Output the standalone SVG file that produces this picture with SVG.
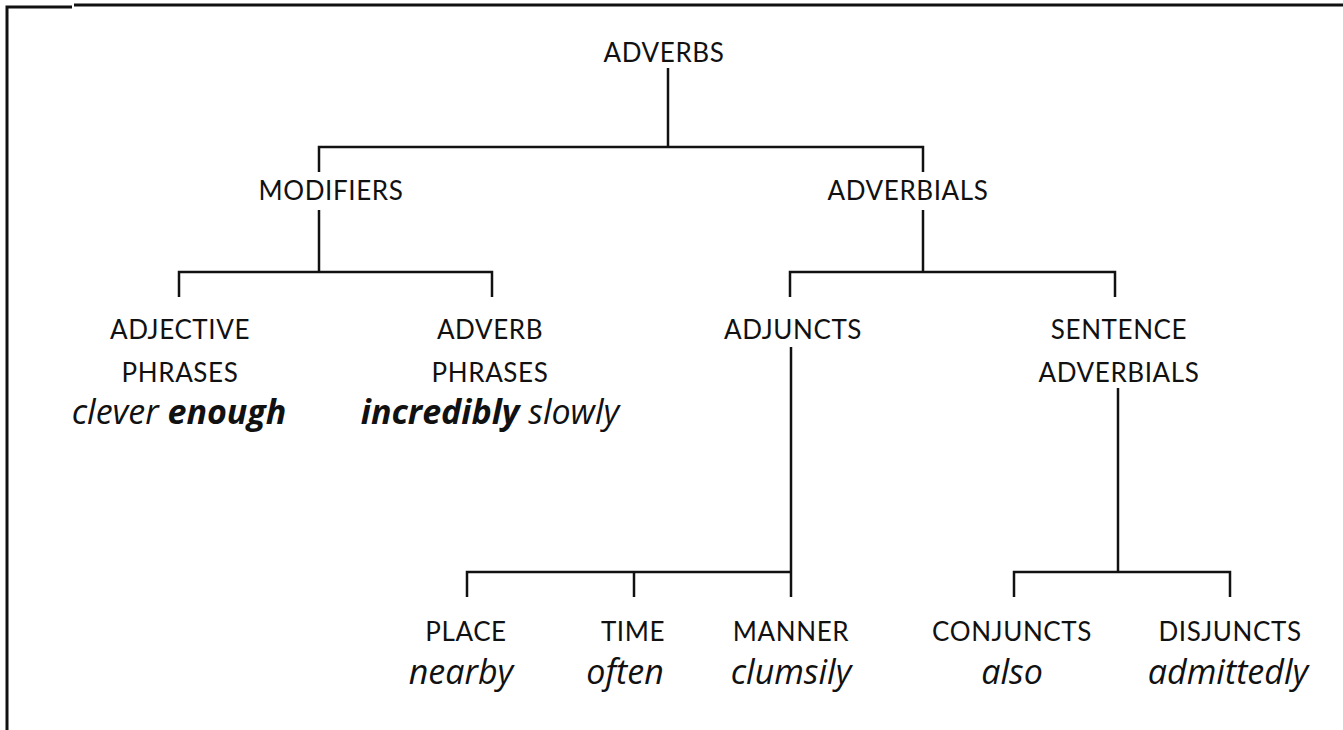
<svg xmlns="http://www.w3.org/2000/svg" width="1343" height="730" viewBox="0 0 1343 730">
  <style>
    .lbl { font-family: Lato, "Liberation Sans", sans-serif; font-size: 26px; letter-spacing: 0.6px; fill: #111; text-anchor: middle; }
    .ex { font-family: "Open Sans", "Liberation Sans", sans-serif; font-size: 34px; font-style: italic; fill: #111; text-anchor: middle; }
    .b { font-weight: bold; }
    .ln { stroke: #111; stroke-width: 2.5; fill: none; }
    .frame { stroke: #111; stroke-width: 3; fill: none; }
  </style>
  <rect width="1343" height="730" fill="#fff"/>

  <!-- page frame -->
  <g id="frame">
    <path class="frame" d="M7,730 V7 H72"/>
    <path class="frame" d="M74,5 H1343"/>
  </g>

  <!-- connectors -->
  <g id="connectors">
    <path class="ln" d="M668,68 V147"/>
    <path class="ln" d="M319,172 V147 H923 V172"/>
    <path class="ln" d="M319,210 V272"/>
    <path class="ln" d="M179,297 V272 H492 V297"/>
    <path class="ln" d="M923,210 V272"/>
    <path class="ln" d="M790,297 V272 H1115 V297"/>
    <path class="ln" d="M791,347 V597"/>
    <path class="ln" d="M467,597 V572 H791"/>
    <path class="ln" d="M634,572 V597"/>
    <path class="ln" d="M1118,388 V572"/>
    <path class="ln" d="M1014,597 V572 H1230 V597"/>
  </g>

  <g id="adverbs"><text class="lbl" x="664" y="62">ADVERBS</text></g>
  <g id="modifiers"><text class="lbl" x="331" y="200">MODIFIERS</text></g>
  <g id="adverbials"><text class="lbl" x="908" y="200">ADVERBIALS</text></g>

  <g id="adjective-phrases">
    <text class="lbl" x="180" y="339">ADJECTIVE</text>
    <text class="lbl" x="180" y="382">PHRASES</text>
    <text class="ex" x="179" y="424">clever <tspan class="b">enough</tspan></text>
  </g>
  <g id="adverb-phrases">
    <text class="lbl" x="490" y="339">ADVERB</text>
    <text class="lbl" x="490" y="382">PHRASES</text>
    <text class="ex" x="490" y="424"><tspan class="b">incredibly</tspan> slowly</text>
  </g>
  <g id="adjuncts"><text class="lbl" x="793" y="339">ADJUNCTS</text></g>
  <g id="sentence-adverbials">
    <text class="lbl" x="1119" y="339">SENTENCE</text>
    <text class="lbl" x="1119" y="382">ADVERBIALS</text>
  </g>

  <g id="place">
    <text class="lbl" x="466" y="641">PLACE</text>
    <text class="ex" x="461" y="684">nearby</text>
  </g>
  <g id="time">
    <text class="lbl" x="633" y="641">TIME</text>
    <text class="ex" x="625" y="684">often</text>
  </g>
  <g id="manner">
    <text class="lbl" x="791" y="641">MANNER</text>
    <text class="ex" x="791" y="684">clumsily</text>
  </g>
  <g id="conjuncts">
    <text class="lbl" x="1012" y="641">CONJUNCTS</text>
    <text class="ex" x="1012" y="684">also</text>
  </g>
  <g id="disjuncts">
    <text class="lbl" x="1230" y="641">DISJUNCTS</text>
    <text class="ex" x="1228" y="684">admittedly</text>
  </g>
</svg>
